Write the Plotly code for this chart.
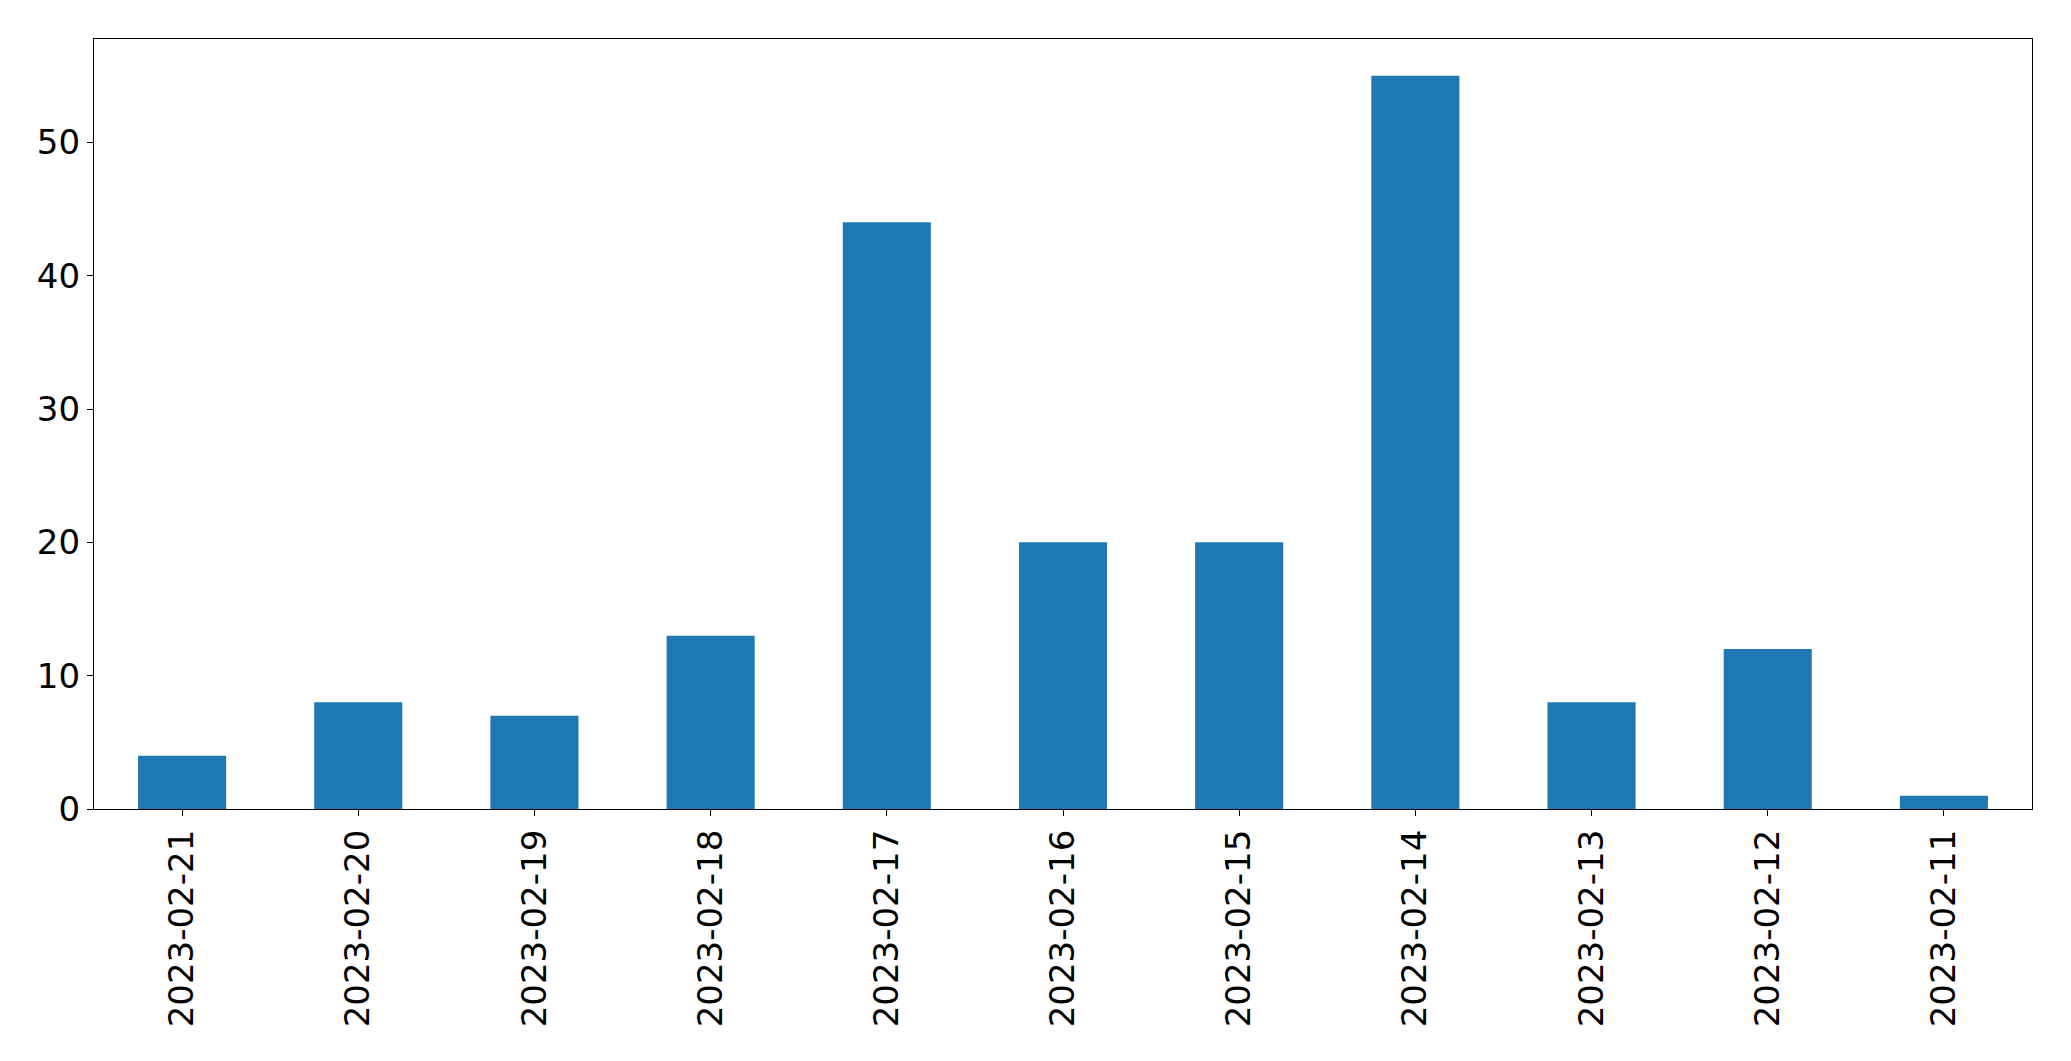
import plotly.graph_objects as go

dates = ["2023-02-21", "2023-02-20", "2023-02-19", "2023-02-18", "2023-02-17",
         "2023-02-16", "2023-02-15", "2023-02-14", "2023-02-13", "2023-02-12", "2023-02-11"]
counts = [4, 8, 7, 13, 44, 20, 20, 55, 8, 12, 1]
y_ticks = [0, 10, 20, 30, 40, 50]

fig = go.Figure(go.Bar(x=dates, y=counts, marker=dict(color="#1f77b4", line=dict(width=0)), width=0.5))

fig.update_layout(
    width=2071, height=1061,
    margin=dict(l=94, r=39, t=39, b=252),
    plot_bgcolor="white", paper_bgcolor="white",
    font=dict(family="DejaVu Sans", size=34, color="black"),
    showlegend=False,
)
fig.update_xaxes(
    type="category", range=[-0.5, 10.5],
    showline=True, linecolor="black", linewidth=1.3, mirror=True,
    ticks="outside", ticklen=6, tickwidth=1.3, tickcolor="black",
    tickangle=-90, showgrid=False, ticklabelstandoff=0,
)
fig.update_yaxes(
    range=[0, 57.75], tickvals=y_ticks,
    showline=True, linecolor="black", linewidth=1.3, mirror=True,
    ticks="outside", ticklen=6, tickwidth=1.3, tickcolor="black",
    showgrid=False, zeroline=False, ticklabelstandoff=0,
)

fig.write_html("out.html", config={"displayModeBar": False},
               post_script="document.body.style.margin='0';document.body.style.overflow='hidden';")
